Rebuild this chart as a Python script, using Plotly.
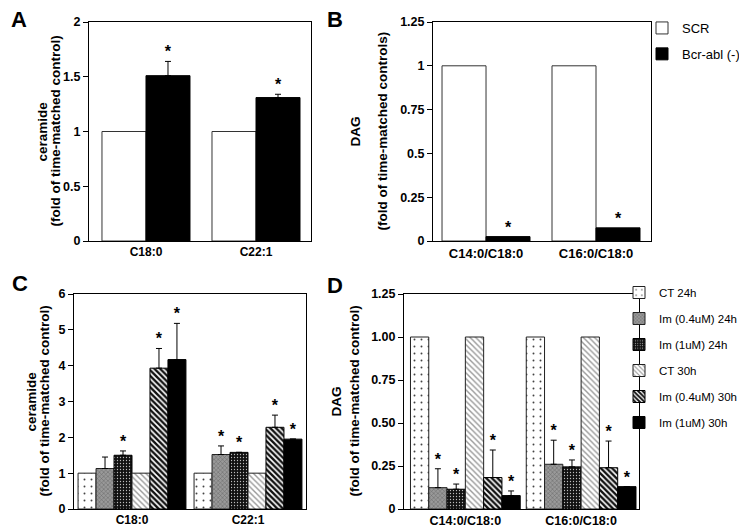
import plotly.graph_objects as go

W, H = 747, 527

# ---------------- data ----------------
# Panel A: ceramide (fold of time-matched control)
a_cats = ["C18:0", "C22:1"]
a_scr = [1.0, 1.0]
a_bcr = [1.51, 1.31]
a_bcr_err = [0.13, 0.03]
a_bcr_star = [True, True]

# Panel B: DAG (fold of time-matched controls)
b_cats = ["C14:0/C18:0", "C16:0/C18:0"]
b_scr = [1.0, 1.0]
b_bcr = [0.025, 0.075]
b_bcr_err = [0.0, 0.0]
b_bcr_star = [True, True]

ab_names = ["SCR", "Bcr-abl (-)"]

# Panels C and D series names
cd_names = ["CT 24h", "Im (0.4uM) 24h", "Im (1uM) 24h",
            "CT 30h", "Im (0.4uM) 30h", "Im (1uM) 30h"]

# Panel C: ceramide
c_cats = ["C18:0", "C22:1"]
c_ct24 = [1.0, 1.0]
c_im04_24 = [1.13, 1.52]
c_im1_24 = [1.50, 1.58]
c_ct30 = [1.0, 1.0]
c_im04_30 = [3.93, 2.28]
c_im1_30 = [4.17, 1.95]
c_ct24_err = [0.0, 0.0]
c_im04_24_err = [0.32, 0.24]
c_im1_24_err = [0.12, 0.0]
c_ct30_err = [0.0, 0.0]
c_im04_30_err = [0.55, 0.34]
c_im1_30_err = [1.01, 0.0]
c_ct24_star = [False, False]
c_im04_24_star = [False, True]
c_im1_24_star = [True, True]
c_ct30_star = [False, False]
c_im04_30_star = [True, True]
c_im1_30_star = [True, True]

# Panel D: DAG
d_cats = ["C14:0/C18:0", "C16:0/C18:0"]
d_ct24 = [1.0, 1.0]
d_im04_24 = [0.124, 0.26]
d_im1_24 = [0.115, 0.245]
d_ct30 = [1.0, 1.0]
d_im04_30 = [0.183, 0.24]
d_im1_30 = [0.078, 0.13]
d_ct24_err = [0.0, 0.0]
d_im04_24_err = [0.11, 0.14]
d_im1_24_err = [0.03, 0.04]
d_ct30_err = [0.0, 0.0]
d_im04_30_err = [0.16, 0.155]
d_im1_30_err = [0.027, 0.0]
d_ct24_star = [False, False]
d_im04_24_star = [True, True]
d_im1_24_star = [True, True]
d_ct30_star = [False, False]
d_im04_30_star = [True, True]
d_im1_30_star = [True, True]

# ---------------- styles ----------------
FONT = "Liberation Sans, Arial, sans-serif"
ab_styles = [
    dict(color="white", line=dict(color="#333", width=1)),
    dict(color="black", line=dict(color="black", width=1)),
]
cd_styles = [
    dict(color="white", line=dict(color="#222", width=1),
         pattern=dict(shape=".", fgcolor="#444", bgcolor="white", size=7, solidity=0.06, fillmode="replace")),
    dict(color="#808080", line=dict(color="#222", width=1),
         pattern=dict(shape="x", fgcolor="#666", bgcolor="#999", size=3, solidity=0.3, fillmode="replace")),
    dict(color="black", line=dict(color="black", width=1),
         pattern=dict(shape=".", fgcolor="#bbb", bgcolor="#111", size=3, solidity=0.15, fillmode="replace")),
    dict(color="white", line=dict(color="#222", width=1),
         pattern=dict(shape="\\", fgcolor="#999", bgcolor="white", size=4, solidity=0.35, fillmode="replace")),
    dict(color="black", line=dict(color="black", width=1),
         pattern=dict(shape="\\", fgcolor="#111", bgcolor="white", size=4, solidity=0.6, fillmode="replace")),
    dict(color="black", line=dict(color="black", width=1)),
]

fig = go.Figure()


def add_group(cats, series, errs, stars, names, styles, xa, ya, width, legend, showlegend):
    n = len(series)
    xs_center = list(range(len(cats)))
    sx, sy = [], []
    for j, (vals, err, st, name, style) in enumerate(zip(series, errs, stars, names, styles)):
        off = (j - (n - 1) / 2) * width
        xs = [c + off for c in xs_center]
        has_err = any(e > 0 for e in err)
        fig.add_trace(go.Bar(
            x=xs, y=vals, width=width, name=name, marker=style,
            xaxis=xa, yaxis=ya, legend=legend, showlegend=showlegend,
            legendgroup=legend + name,
            error_y=dict(type="data", symmetric=False, array=err, arrayminus=[0] * len(err),
                         color="black", thickness=1, width=3, visible=has_err),
            hoverinfo="skip",
        ))
        for x, v, e, s in zip(xs, vals, err, st):
            if s:
                sx.append(x)
                sy.append(v + e)
    fig.add_trace(go.Scatter(
        x=sx, y=sy, mode="text", text=["*"] * len(sx), textposition="top center",
        textfont=dict(family=FONT, size=16, color="black", weight="bold"),
        xaxis=xa, yaxis=ya, showlegend=False, hoverinfo="skip",
    ))


add_group(a_cats, [a_scr, a_bcr], [[0, 0], a_bcr_err], [[False, False], a_bcr_star],
          ab_names, ab_styles, "x", "y", 0.4, "legend", True)
add_group(b_cats, [b_scr, b_bcr], [[0, 0], b_bcr_err], [[False, False], b_bcr_star],
          ab_names, ab_styles, "x2", "y2", 0.4, "legend", False)
add_group(c_cats, [c_ct24, c_im04_24, c_im1_24, c_ct30, c_im04_30, c_im1_30],
          [c_ct24_err, c_im04_24_err, c_im1_24_err, c_ct30_err, c_im04_30_err, c_im1_30_err],
          [c_ct24_star, c_im04_24_star, c_im1_24_star, c_ct30_star, c_im04_30_star, c_im1_30_star],
          cd_names, cd_styles, "x3", "y3", 0.155, "legend2", False)
add_group(d_cats, [d_ct24, d_im04_24, d_im1_24, d_ct30, d_im04_30, d_im1_30],
          [d_ct24_err, d_im04_24_err, d_im1_24_err, d_ct30_err, d_im04_30_err, d_im1_30_err],
          [d_ct24_star, d_im04_24_star, d_im1_24_star, d_ct30_star, d_im04_30_star, d_im1_30_star],
          cd_names, cd_styles, "x4", "y4", 0.158, "legend2", True)


def xdom(a, b):
    return [a / W, b / W]


def ydom(top, bottom):
    return [1 - bottom / H, 1 - top / H]


def xaxis(dom, rng, cats, anchor, size):
    return dict(domain=dom, range=rng, anchor=anchor, tickvals=list(range(len(cats))), ticktext=cats,
                showline=True, mirror=True, linecolor="black", linewidth=1, ticks="",
                showgrid=False, zeroline=False, fixedrange=True, automargin=False,
                tickfont=dict(family=FONT, size=size, color="black", weight="bold"))


def yaxis(dom, rng, tv, tt, anchor):
    return dict(domain=dom, range=rng, anchor=anchor, tickvals=tv, ticktext=tt,
                showline=True, mirror=True, linecolor="black", linewidth=1,
                ticks="outside", ticklen=5, tickcolor="black", tickwidth=1,
                showgrid=False, zeroline=False, fixedrange=True, automargin=False,
                tickfont=dict(family=FONT, size=12.5, color="black", weight="bold"))


a_ticks = [0, 0.5, 1, 1.5, 2]
a_labels = ["0", "0.5", "1", "1.5", "2"]
b_ticks = [0, 0.25, 0.5, 0.75, 1, 1.25]
b_labels = ["0", "0.25", "0.5", "0.75", "1", "1.25"]
c_ticks = [0, 1, 2, 3, 4, 5, 6]
c_labels = ["0", "1", "2", "3", "4", "5", "6"]
d_ticks = [0, 0.25, 0.5, 0.75, 1, 1.25]
d_labels = ["0", "0.25", "0.50", "0.75", "1.00", "1.25"]

fig.update_layout(
    width=W, height=H, margin=dict(l=0, r=0, t=0, b=0, autoexpand=False),
    paper_bgcolor="white", plot_bgcolor="white", barmode="overlay",
    font=dict(family=FONT, color="black"),
    xaxis=xaxis(xdom(81, 303), [-0.518, 1.5], a_cats, "y", 12),
    yaxis=yaxis(ydom(14, 233), [0, 2], a_ticks, a_labels, "x"),
    xaxis2=xaxis(xdom(425, 643), [-0.482, 1.5], b_cats, "y2", 13),
    yaxis2=yaxis(ydom(14, 233), [0, 1.25], b_ticks, b_labels, "x2"),
    xaxis3=xaxis(xdom(66, 298), [-0.5, 1.5], c_cats, "y3", 12),
    yaxis3=yaxis(ydom(286, 501), [0, 6], c_ticks, c_labels, "x3"),
    xaxis4=xaxis(xdom(396, 631), [-0.53, 1.5], d_cats, "y4", 12.5),
    yaxis4=yaxis(ydom(286, 501), [0, 1.25], d_ticks, d_labels, "x4"),
    legend=dict(x=634 / W, y=1 - 5 / H, xanchor="left", yanchor="top",
                bgcolor="rgba(0,0,0,0)", font=dict(family=FONT, size=13, color="black"),
                traceorder="grouped", tracegroupgap=6),
    legend2=dict(x=611 / W, y=1 - 270 / H, xanchor="left", yanchor="top",
                 bgcolor="rgba(0,0,0,0)", font=dict(family=FONT, size=11.5, color="black"),
                 traceorder="grouped", tracegroupgap=7),
    showlegend=True,
)

annots = [
    ("A", 11, 11, 22, 0), ("B", 327, 11, 22, 0), ("C", 12, 275, 22, 0), ("D", 327, 277, 22, 0),
    ("ceramide", 34, 123.5, 13.5, -90), ("(fold of time-matched control)", 47, 123.5, 13.5, -90),
    ("DAG", 347, 123.5, 13.5, -90), ("(fold of time-matched controls)", 374, 123.5, 13.5, -90),
    ("ceramide", 23, 393.5, 13.5, -90), ("(fold of time-matched control)", 36, 393.5, 13.5, -90),
    ("DAG", 328, 393.5, 13.5, -90), ("(fold of time-matched control)", 346, 393.5, 13.5, -90),
]
for txt, x, y, size, ang in annots:
    fig.add_annotation(text="<b>" + txt + "</b>", x=x / W, y=1 - y / H, xref="paper", yref="paper",
                       xanchor="center", yanchor="middle", showarrow=False, textangle=ang,
                       font=dict(family=FONT, size=size, color="black"))

fig.write_html("out.html")
